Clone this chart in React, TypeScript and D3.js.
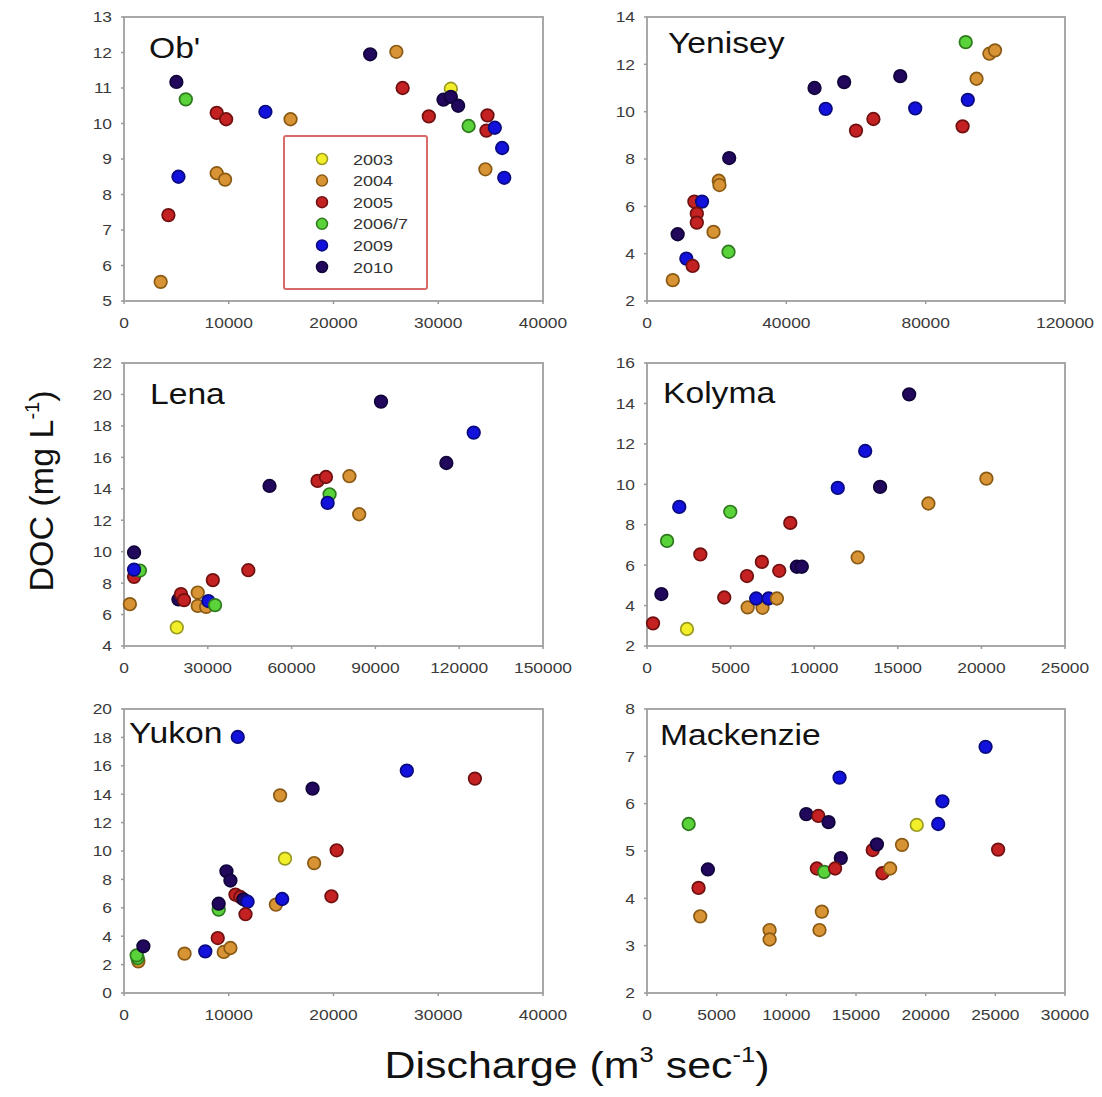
import React from "react";
import * as d3 from "d3";

type P = [string, number, number];

const years = ["2003", "2004", "2005", "2006/7", "2009", "2010"];
const fills = ["#f2ee2a", "#d89434", "#c42222", "#5ad23a", "#1212dc", "#22085c"];
const strokes = ["#9a9a20", "#8a5a14", "#701010", "#2e7a1e", "#0a0a80", "#10043a"];

const obData: P[] = [
  ["2004", 3500, 5.54], ["2005", 4240, 7.42], ["2009", 5200, 8.5], ["2010", 5000, 11.17],
  ["2006/7", 5900, 10.68], ["2005", 8850, 10.3], ["2005", 9750, 10.12], ["2004", 8850, 8.6],
  ["2004", 9650, 8.42], ["2009", 13500, 10.33], ["2004", 15900, 10.12], ["2010", 23500, 11.95],
  ["2004", 26000, 12.02], ["2005", 26600, 11.0], ["2005", 29100, 10.2], ["2003", 31200, 10.98],
  ["2010", 30500, 10.67], ["2010", 31200, 10.75], ["2010", 31900, 10.5], ["2006/7", 32900, 9.93],
  ["2005", 34700, 10.23], ["2005", 34600, 9.8], ["2009", 35400, 9.88], ["2009", 36100, 9.31],
  ["2004", 34500, 8.71], ["2009", 36300, 8.47],
];

const yeniseyData: P[] = [
  ["2004", 7400, 2.88], ["2010", 8800, 4.82], ["2009", 11300, 3.79], ["2005", 13100, 3.48],
  ["2005", 13600, 6.2], ["2009", 15800, 6.2], ["2005", 14300, 5.69], ["2005", 14300, 5.31],
  ["2004", 19100, 4.92], ["2006/7", 23400, 4.08], ["2004", 20600, 7.08], ["2004", 20800, 6.9],
  ["2010", 23600, 8.04], ["2010", 48100, 11.0], ["2009", 51300, 10.12], ["2010", 56600, 11.25],
  ["2005", 60000, 9.2], ["2005", 65000, 9.69], ["2010", 72700, 11.5], ["2009", 77000, 10.14],
  ["2006/7", 91500, 12.94], ["2005", 90600, 9.38], ["2009", 92100, 10.5], ["2004", 94600, 11.39],
  ["2004", 98300, 12.45], ["2004", 99900, 12.59],
];

const lenaData: P[] = [
  ["2004", 2100, 6.66], ["2005", 3600, 8.4], ["2006/7", 5700, 8.8], ["2009", 3600, 8.86],
  ["2010", 3600, 9.95], ["2003", 18900, 5.18], ["2010", 19500, 6.96], ["2005", 20400, 7.3],
  ["2005", 21500, 6.92], ["2004", 26400, 7.4], ["2004", 26400, 6.55], ["2004", 29400, 6.49],
  ["2009", 30200, 6.86], ["2006/7", 32600, 6.6], ["2005", 31800, 8.19], ["2005", 44500, 8.82],
  ["2010", 52100, 14.18], ["2005", 69300, 14.5], ["2005", 72300, 14.75], ["2004", 80700, 14.8],
  ["2006/7", 73600, 13.65], ["2009", 72900, 13.1], ["2004", 84200, 12.38], ["2010", 92000, 19.54],
  ["2010", 115400, 15.64], ["2009", 125200, 17.57],
];

const kolymaData: P[] = [
  ["2005", 360, 3.12], ["2010", 860, 4.57], ["2003", 2390, 2.84], ["2006/7", 1200, 7.2],
  ["2009", 1930, 8.88], ["2006/7", 4980, 8.64], ["2005", 3190, 6.53], ["2005", 4620, 4.4],
  ["2005", 5980, 5.46], ["2004", 6020, 3.91], ["2005", 6870, 6.16], ["2004", 6910, 3.89],
  ["2009", 6530, 4.35], ["2009", 7270, 4.35], ["2004", 7770, 4.35], ["2005", 7910, 5.72],
  ["2005", 8570, 8.09], ["2010", 8960, 5.92], ["2010", 9260, 5.92], ["2009", 11410, 9.82],
  ["2009", 13050, 11.65], ["2004", 12600, 6.38], ["2010", 13940, 9.87], ["2010", 15680, 14.45],
  ["2004", 16830, 9.05], ["2004", 20300, 10.28],
];

const yukonData: P[] = [
  ["2004", 1370, 2.23], ["2006/7", 1300, 2.45], ["2006/7", 1210, 2.65], ["2010", 1850, 3.29],
  ["2004", 5780, 2.77], ["2009", 7760, 2.93], ["2004", 9520, 2.89], ["2004", 10160, 3.17],
  ["2005", 8950, 3.87], ["2006/7", 9040, 5.87], ["2010", 9040, 6.29], ["2010", 9780, 8.57],
  ["2010", 10160, 7.92], ["2005", 10640, 6.93], ["2005", 11100, 6.76], ["2010", 11400, 6.6],
  ["2009", 11800, 6.43], ["2005", 11600, 5.55], ["2009", 10860, 18.03], ["2004", 14900, 13.92],
  ["2010", 18000, 14.39], ["2003", 15370, 9.46], ["2004", 18150, 9.15], ["2005", 20300, 10.05],
  ["2005", 19800, 6.81], ["2004", 14500, 6.22], ["2009", 15100, 6.62], ["2009", 27000, 15.66],
  ["2005", 33500, 15.1],
];

const mackenzieData: P[] = [
  ["2006/7", 2990, 5.57], ["2010", 4370, 4.61], ["2005", 3700, 4.22], ["2004", 3820, 3.62],
  ["2004", 8800, 3.33], ["2004", 8800, 3.13], ["2010", 11430, 5.78], ["2005", 12300, 5.74],
  ["2010", 13030, 5.61], ["2009", 13820, 6.55], ["2010", 13910, 4.85], ["2005", 12190, 4.63],
  ["2006/7", 12720, 4.56], ["2005", 13500, 4.63], ["2004", 12550, 3.72], ["2004", 12380, 3.33],
  ["2005", 16200, 5.02], ["2010", 16500, 5.14], ["2005", 16900, 4.53], ["2004", 17450, 4.63],
  ["2004", 18300, 5.13], ["2003", 19360, 5.55], ["2009", 20900, 5.57], ["2009", 21200, 6.05],
  ["2009", 24300, 7.2], ["2005", 25200, 5.03],
];

const rivers = ["Ob'", "Yenisey", "Lena", "Kolyma", "Yukon", "Mackenzie"];
const riverData = [obData, yeniseyData, lenaData, kolymaData, yukonData, mackenzieData];
const xMax = [40000, 120000, 150000, 25000, 40000, 30000];
const xStep = [10000, 40000, 30000, 5000, 10000, 5000];
const yMin = [5, 2, 4, 2, 0, 2];
const yMax = [13, 14, 22, 16, 20, 8];
const yStep = [1, 2, 2, 2, 2, 1];

// layout (pixels)
const colX = [[124, 543], [647, 1065]];
const rowY = [[17, 301], [363, 646], [709, 993]];
const titleOff = [[25, 41], [21, 36], [26, 41], [16, 40], [5, 34], [13, 36]];

const FONT = "'Liberation Sans', Arial, Helvetica, sans-serif";
const SX = 1.16;

function T(props: { x: number; y: number; size: number; anchor?: string; fill?: string; children: any; dy?: string }) {
  const { x, y, size, anchor = "start", fill = "#111", children, dy } = props;
  return (
    <text
      transform={`translate(${x},${y}) scale(${SX},1)`}
      fontSize={size}
      textAnchor={anchor}
      fill={fill}
      fontFamily={FONT}
      dy={dy}
    >
      {children}
    </text>
  );
}

function Panel({ i }: { i: number }) {
  const [x0, x1] = colX[i % 2];
  const [y0, y1] = rowY[Math.floor(i / 2)];
  const xs = d3.scaleLinear().domain([0, xMax[i]]).range([x0, x1]);
  const ys = d3.scaleLinear().domain([yMin[i], yMax[i]]).range([y1, y0]);
  const xt = d3.range(0, xMax[i] + 1, xStep[i]);
  const yt = d3.range(yMin[i], yMax[i] + 0.001, yStep[i]);
  const data = riverData[i];
  return (
    <g>
      <rect x={x0} y={y0} width={x1 - x0} height={y1 - y0} fill="white" stroke="#a8a8a8" strokeWidth={2} />
      {yt.map((v) => (
        <g key={"y" + v}>
          <line x1={x0 - 3} x2={x0} y1={ys(v)} y2={ys(v)} stroke="#999" strokeWidth={1.5} />
          <T x={x0 - 12} y={ys(v)} size={15} anchor="end" fill="#3a3a3a" dy="0.36em">
            {String(v)}
          </T>
        </g>
      ))}
      {xt.map((v) => (
        <g key={"x" + v}>
          <line x1={xs(v)} x2={xs(v)} y1={y1} y2={y1 + 3} stroke="#999" strokeWidth={1.5} />
          <T x={xs(v)} y={y1 + 27} size={15} anchor="middle" fill="#3a3a3a">
            {String(v)}
          </T>
        </g>
      ))}
      <T x={x0 + titleOff[i][0]} y={y0 + titleOff[i][1]} size={29} fill="#111">
        {rivers[i]}
      </T>
      {data.map((d, k) => {
        const yi = years.indexOf(d[0]);
        return (
          <circle
            key={k}
            cx={xs(d[1])}
            cy={ys(d[2])}
            r={6.3}
            fill={fills[yi]}
            stroke={strokes[yi]}
            strokeWidth={1.7}
          />
        );
      })}
    </g>
  );
}

function Legend() {
  const lx = 284, ly = 136, lw = 143, lh = 153;
  const rows = d3.scaleLinear().domain([0, years.length - 1]).range([159, 267]);
  return (
    <g>
      <rect x={lx} y={ly} width={lw} height={lh} fill="white" stroke="#d86a6a" strokeWidth={2} rx={2} />
      {years.map((y, k) => (
        <g key={y}>
          <circle cx={322} cy={rows(k)} r={5.5} fill={fills[k]} stroke={strokes[k]} strokeWidth={1.5} />
          <T x={353} y={rows(k)} size={15.5} fill="#333" dy="0.36em">
            {y}
          </T>
        </g>
      ))}
    </g>
  );
}

export default function App() {
  return (
    <div>
      <style>{`body{margin:0;}`}</style>
      <svg width={1102} height={1097} style={{ display: "block", background: "white" }}>
        {rivers.map((_, i) => (
          <Panel key={i} i={i} />
        ))}
        <Legend />
        <text
          transform="translate(53,491) rotate(-90)"
          fontSize={34}
          textAnchor="middle"
          fontFamily={FONT}
          fill="#111"
        >
          DOC (mg L<tspan dy="-14" fontSize={20}>-1</tspan><tspan dy="14">)</tspan>
        </text>
        <text
          transform={`translate(577,1078) scale(${SX},1)`}
          fontSize={37}
          textAnchor="middle"
          fontFamily={FONT}
          fill="#111"
        >
          Discharge (m<tspan dy="-16" fontSize={22}>3</tspan>
          <tspan dy="16"> sec</tspan>
          <tspan dy="-16" fontSize={22}>-1</tspan>
          <tspan dy="16">)</tspan>
        </text>
      </svg>
    </div>
  );
}
